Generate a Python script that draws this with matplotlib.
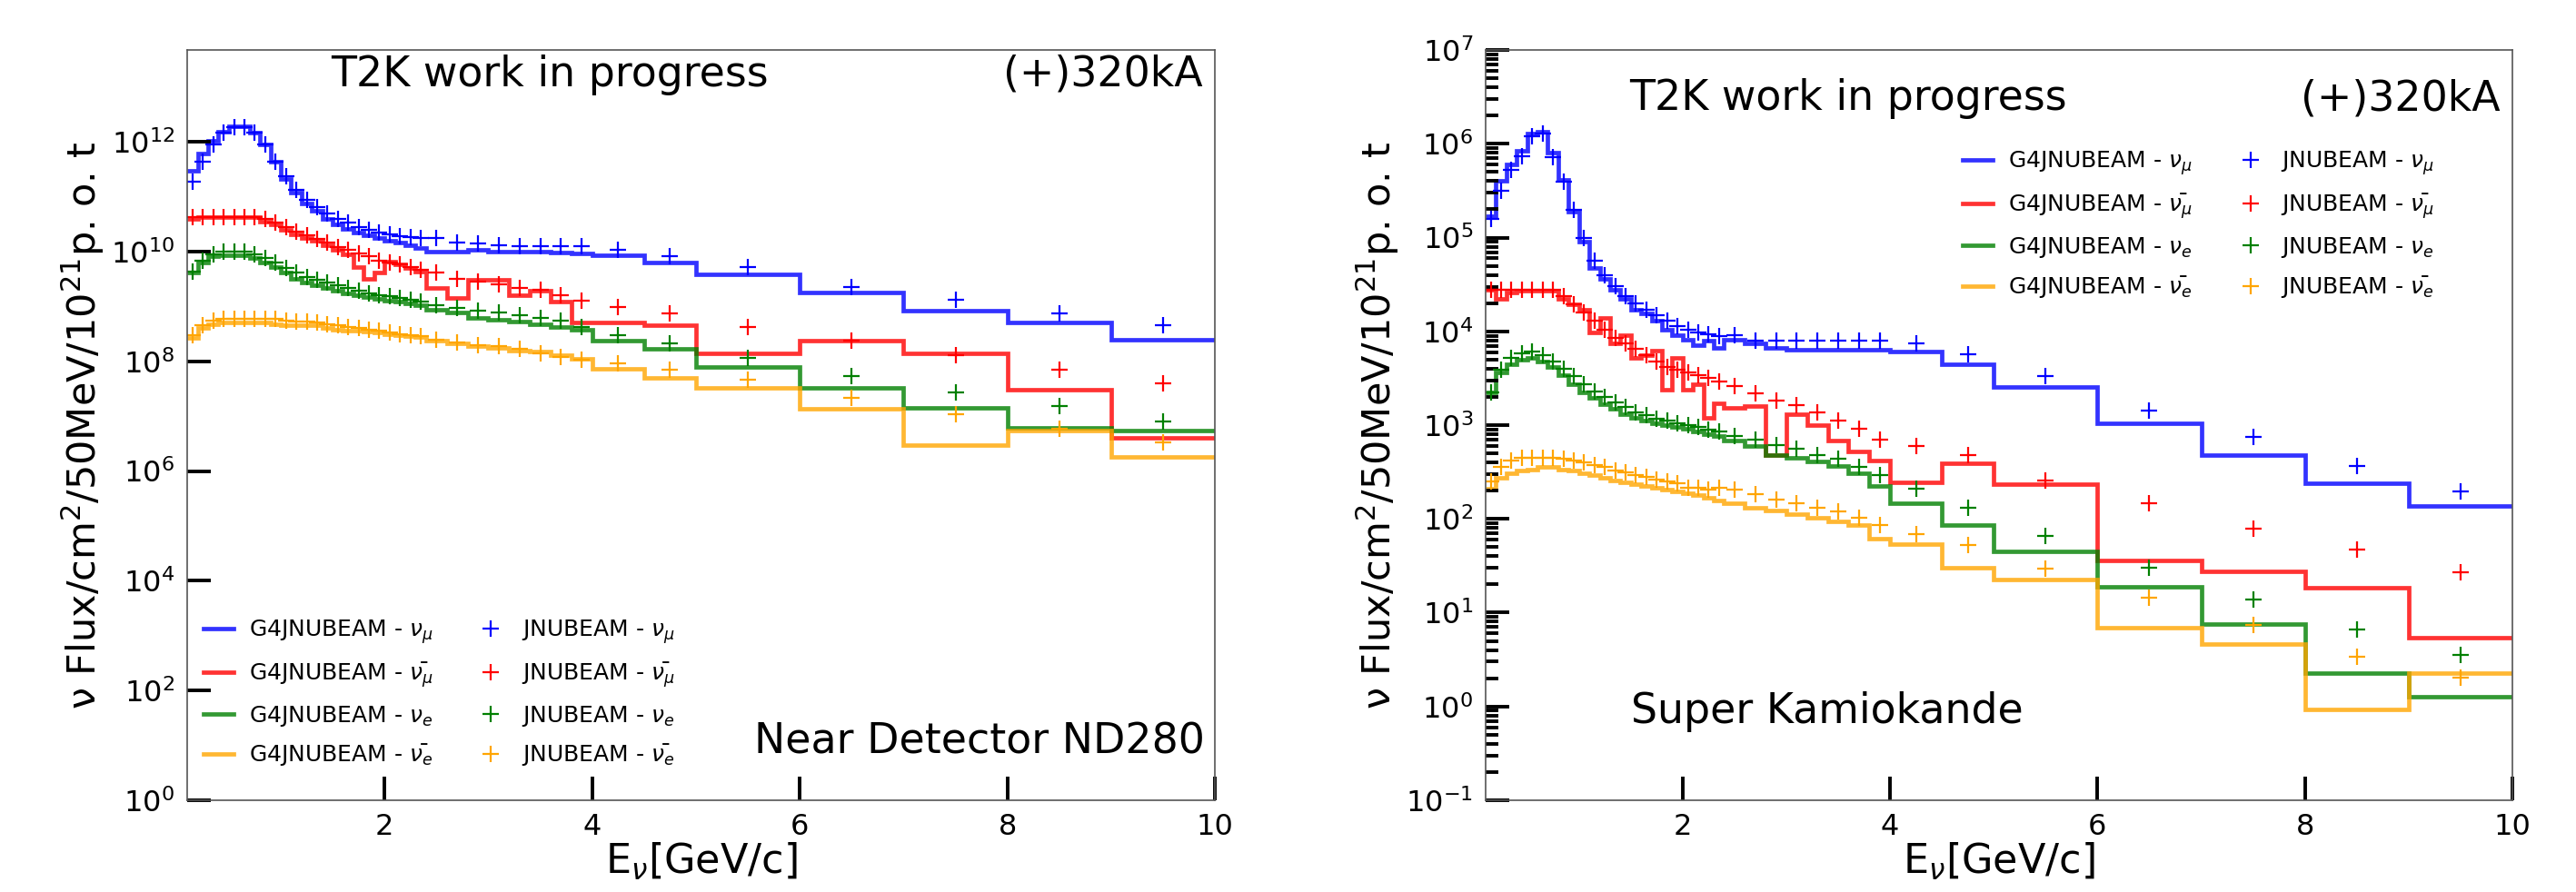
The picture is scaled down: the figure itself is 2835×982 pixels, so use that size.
import numpy as np
import matplotlib
matplotlib.use("Agg")
import matplotlib.pyplot as plt
from matplotlib import font_manager
from matplotlib.ticker import LogLocator, NullLocator, FixedLocator

# energy bin edges [GeV]
e_edges = [0.1, 0.2, 0.3, 0.4, 0.5, 0.6, 0.7, 0.8, 0.9, 1.0,
           1.1, 1.2, 1.3, 1.4, 1.5, 1.6, 1.7, 1.8, 1.9, 2.0,
           2.1, 2.2, 2.3, 2.4, 2.6, 2.8, 3.0, 3.2, 3.4, 3.6,
           3.8, 4.0, 4.5, 5.0, 6.0, 7.0, 8.0, 9.0, 10.0]

# ---- ND280 flux, log10 values ----
nd_g4_numu = [11.48, 11.79, 12.02, 12.19, 12.29, 12.29, 12.16, 11.95, 11.64, 11.33,
              11.07, 10.88, 10.74, 10.60, 10.50, 10.41, 10.34, 10.29, 10.24, 10.20,
              10.16, 10.11, 10.06, 10.00, 10.00, 10.03, 10.00, 10.00, 10.00, 9.98,
              9.97, 9.93, 9.80, 9.59, 9.25, 8.92, 8.70, 8.39]
nd_jn_numu = [11.27, 11.64, 11.95, 12.16, 12.26, 12.26, 12.16, 11.95, 11.64, 11.38,
              11.12, 10.94, 10.81, 10.70, 10.60, 10.52, 10.45, 10.40, 10.34, 10.31,
              10.28, 10.26, 10.24, 10.24, 10.17, 10.14, 10.12, 10.09, 10.09, 10.09,
              10.09, 10.03, 9.91, 9.72, 9.36, 9.12, 8.87, 8.65]
nd_g4_numubar = [10.60, 10.63, 10.63, 10.63, 10.63, 10.63, 10.63, 10.55, 10.50, 10.40,
                 10.32, 10.24, 10.19, 10.11, 10.03, 9.95, 9.72, 9.51, 9.62, 9.82,
                 9.77, 9.70, 9.64, 9.33, 9.15, 9.49, 9.49, 9.20, 9.28, 9.08,
                 8.70, 8.70, 8.66, 8.15, 8.37, 8.15, 7.48, 6.61]
nd_jn_numubar = [10.63, 10.63, 10.63, 10.63, 10.63, 10.63, 10.63, 10.60, 10.53, 10.45,
                 10.36, 10.29, 10.23, 10.16, 10.08, 10.03, 9.96, 9.91, 9.84, 9.80,
                 9.76, 9.72, 9.67, 9.62, 9.51, 9.46, 9.41, 9.33, 9.31, 9.20,
                 9.10, 8.99, 8.87, 8.63, 8.37, 8.11, 7.85, 7.60]
nd_g4_nue = [9.62, 9.80, 9.91, 9.93, 9.93, 9.93, 9.88, 9.80, 9.72, 9.62,
             9.51, 9.44, 9.38, 9.33, 9.28, 9.24, 9.20, 9.17, 9.14, 9.11,
             9.08, 9.05, 9.02, 8.94, 8.89, 8.79, 8.76, 8.73, 8.68, 8.63,
             8.58, 8.37, 8.22, 7.90, 7.52, 7.15, 6.79, 6.74]
nd_jn_nue = [9.64, 9.84, 9.95, 10.00, 10.00, 10.00, 9.95, 9.88, 9.80, 9.70,
             9.62, 9.54, 9.48, 9.43, 9.38, 9.33, 9.29, 9.24, 9.21, 9.18,
             9.15, 9.12, 9.08, 9.02, 8.97, 8.92, 8.89, 8.84, 8.79, 8.74,
             8.63, 8.47, 8.32, 8.06, 7.73, 7.44, 7.18, 6.90]
nd_g4_nuebar = [8.42, 8.60, 8.68, 8.70, 8.70, 8.70, 8.70, 8.70, 8.68, 8.65,
                8.65, 8.65, 8.65, 8.60, 8.58, 8.56, 8.55, 8.54, 8.53, 8.50,
                8.48, 8.46, 8.44, 8.37, 8.32, 8.27, 8.24, 8.20, 8.17, 8.11,
                8.04, 7.86, 7.70, 7.52, 7.13, 6.48, 6.74, 6.25]
nd_jn_nuebar = [8.48, 8.66, 8.74, 8.77, 8.77, 8.77, 8.77, 8.77, 8.77, 8.74,
                8.73, 8.72, 8.70, 8.68, 8.66, 8.63, 8.60, 8.58, 8.55, 8.53,
                8.50, 8.48, 8.46, 8.40, 8.35, 8.30, 8.27, 8.22, 8.15, 8.08,
                8.03, 7.96, 7.85, 7.67, 7.34, 7.03, 6.77, 6.53]

# ---- Super-K flux, log10 values ----
sk_g4_numu = [5.23, 5.61, 5.78, 5.93, 6.11, 6.13, 5.91, 5.62, 5.28, 4.96,
              4.68, 4.56, 4.44, 4.35, 4.23, 4.19, 4.11, 4.02, 3.96, 3.91,
              3.85, 3.90, 3.82, 3.91, 3.87, 3.82, 3.80, 3.80, 3.80, 3.80,
              3.80, 3.78, 3.65, 3.41, 3.02, 2.68, 2.38, 2.14]
sk_jn_numu = [5.20, 5.50, 5.72, 5.87, 6.08, 6.11, 5.86, 5.60, 5.30, 5.00,
              4.75, 4.60, 4.48, 4.38, 4.30, 4.23, 4.17, 4.11, 4.06, 4.02,
              3.99, 3.97, 3.95, 3.96, 3.90, 3.90, 3.90, 3.90, 3.90, 3.90,
              3.90, 3.87, 3.76, 3.52, 3.16, 2.87, 2.56, 2.29]
sk_g4_numubar = [4.44, 4.35, 4.41, 4.43, 4.43, 4.43, 4.43, 4.35, 4.29, 4.23,
                 3.99, 4.14, 3.87, 3.96, 3.72, 3.75, 3.79, 3.38, 3.72, 3.38,
                 3.44, 3.08, 3.23, 3.18, 3.20, 2.68, 3.12, 3.00, 2.84, 2.72,
                 2.62, 2.39, 2.59, 2.37, 1.56, 1.44, 1.27, 0.73]
sk_jn_numubar = [4.44, 4.44, 4.44, 4.44, 4.44, 4.44, 4.44, 4.38, 4.29, 4.20,
                 4.11, 4.02, 3.93, 3.87, 3.81, 3.75, 3.68, 3.62, 3.59, 3.56,
                 3.53, 3.50, 3.47, 3.42, 3.34, 3.26, 3.21, 3.14, 3.05, 2.96,
                 2.85, 2.78, 2.68, 2.41, 2.17, 1.90, 1.67, 1.43]
sk_g4_nue = [3.35, 3.56, 3.65, 3.70, 3.72, 3.68, 3.62, 3.53, 3.44, 3.35,
             3.29, 3.22, 3.17, 3.12, 3.08, 3.05, 3.02, 3.00, 2.98, 2.96,
             2.93, 2.90, 2.88, 2.84, 2.78, 2.68, 2.65, 2.61, 2.56, 2.49,
             2.35, 2.17, 1.93, 1.65, 1.28, 0.88, 0.36, 0.10]
sk_jn_nue = [3.35, 3.59, 3.72, 3.77, 3.78, 3.75, 3.68, 3.60, 3.52, 3.44,
             3.36, 3.30, 3.24, 3.19, 3.14, 3.11, 3.07, 3.05, 3.02, 3.00,
             2.98, 2.95, 2.93, 2.88, 2.85, 2.79, 2.75, 2.68, 2.64, 2.55,
             2.47, 2.32, 2.12, 1.82, 1.48, 1.14, 0.82, 0.55]
sk_g4_nuebar = [2.32, 2.44, 2.49, 2.52, 2.53, 2.55, 2.55, 2.53, 2.52, 2.49,
                2.47, 2.44, 2.41, 2.39, 2.37, 2.35, 2.33, 2.31, 2.29, 2.27,
                2.25, 2.23, 2.20, 2.17, 2.12, 2.09, 2.05, 2.01, 1.97, 1.93,
                1.79, 1.73, 1.48, 1.35, 0.84, 0.67, -0.03, 0.36]
sk_jn_nuebar = [2.40, 2.55, 2.62, 2.65, 2.65, 2.65, 2.65, 2.64, 2.62, 2.60,
                2.57, 2.55, 2.52, 2.50, 2.47, 2.45, 2.42, 2.40, 2.38, 2.33,
                2.33, 2.31, 2.33, 2.31, 2.26, 2.21, 2.17, 2.12, 2.08, 2.01,
                1.93, 1.84, 1.72, 1.47, 1.16, 0.87, 0.53, 0.31]

flavours = [r'$\nu_{\mu}$', r'$\bar{\nu_{\mu}}$', r'$\nu_{e}$', r'$\bar{\nu_{e}}$']
colours = ['blue', 'red', 'green', 'orange']

names = {f.name for f in font_manager.fontManager.ttflist}
leg_font = 'Liberation Sans Narrow' if 'Liberation Sans Narrow' in names else 'DejaVu Sans'

edges = np.array(e_edges)
centres = 0.5 * (edges[1:] + edges[:-1])


def draw_panel(ax, g4, jn, ylim):
    for vals, col, fl in zip(g4, colours, flavours):
        ax.stairs(10.0 ** np.array(vals), edges, baseline=None, color=col,
                  lw=3.4, alpha=0.8, label='G4JNUBEAM - ' + fl)
    for vals, col, fl in zip(jn, colours, flavours):
        ax.plot(centres, 10.0 ** np.array(vals), '+', color=col, ms=13, mew=1.6,
                label='JNUBEAM - ' + fl)
    ax.set_yscale('log')
    ax.set_xlim(0.1, 10)
    ax.set_ylim(*ylim)
    ax.xaxis.set_major_locator(FixedLocator([2, 4, 6, 8, 10]))
    ax.xaxis.set_minor_locator(NullLocator())
    ax.tick_params(which='major', direction='in', length=19, width=2.8,
                   labelsize=23, pad=10)
    ax.tick_params(which='minor', direction='in', length=10, width=2.8)
    ax.set_xlabel(r'E$_{\nu}$[GeV/c]', fontsize=32, labelpad=0)
    ax.set_ylabel('\u03bd Flux/cm$^2$/50MeV/10$^{21}$p. o. t', fontsize=31)
    for s in ax.spines.values():
        s.set_color('#555555')
        s.set_linewidth(1.2)


fig = plt.figure(figsize=(28.35, 9.82), dpi=100)
ax1 = fig.add_axes([0.0727, 0.1029, 0.399, 0.841])
ax2 = fig.add_axes([0.5767, 0.1029, 0.3986, 0.841])

draw_panel(ax1, [nd_g4_numu, nd_g4_numubar, nd_g4_nue, nd_g4_nuebar],
           [nd_jn_numu, nd_jn_numubar, nd_jn_nue, nd_jn_nuebar], (1, 4.7e13))
ax1.yaxis.set_major_locator(FixedLocator([1e0, 1e2, 1e4, 1e6, 1e8, 1e10, 1e12]))
ax1.yaxis.set_minor_locator(NullLocator())

draw_panel(ax2, [sk_g4_numu, sk_g4_numubar, sk_g4_nue, sk_g4_nuebar],
           [sk_jn_numu, sk_jn_numubar, sk_jn_nue, sk_jn_nuebar], (0.1, 1e7))
ax2.yaxis.set_major_locator(LogLocator(base=10, numticks=20))
ax2.yaxis.set_minor_locator(LogLocator(base=10, subs=np.arange(2, 10), numticks=20))

leg_kw = dict(ncol=2, frameon=False, prop={'family': leg_font, 'size': 18},
              handlelength=1.3, handletextpad=0.7, columnspacing=1.9,
              labelspacing=0.65)
ax1.legend(loc='lower left', bbox_to_anchor=(-0.004, 0.015), **leg_kw)
ax2.legend(loc='upper left', bbox_to_anchor=(0.445, 0.895), **leg_kw)

for ax, ytop in [(ax1, 0.967), (ax2, 0.935)]:
    ax.text(0.14, ytop, 'T2K work in progress', transform=ax.transAxes,
            fontsize=33, ha='left', va='center')
    ax.text(0.988, ytop, '(+)320kA', transform=ax.transAxes,
            fontsize=33, ha='right', va='center')
ax1.text(0.99, 0.077, 'Near Detector ND280', transform=ax1.transAxes,
         fontsize=33, ha='right', va='center')
ax2.text(0.142, 0.118, 'Super Kamiokande', transform=ax2.transAxes,
         fontsize=33, ha='left', va='center')

fig.savefig('out.png', dpi=100)
